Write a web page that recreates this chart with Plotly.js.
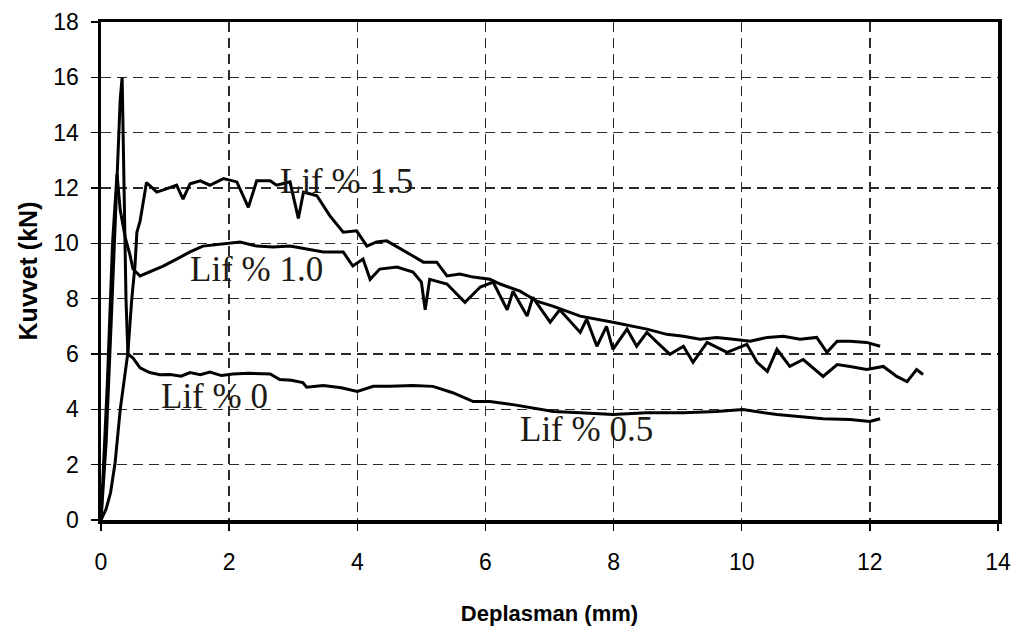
<!DOCTYPE html>
<html>
<head>
<meta charset="utf-8">
<script src="https://cdn.plot.ly/plotly-3.0.1.min.js"></script>
<style>
  html, body { margin: 0; padding: 0; background: #fff; }
  #chart { width: 1022px; height: 637px; }
</style>
</head>
<body>
<div id="chart"></div>
<script>
// ---- Data ----
// Lif % 0 : sudden peak then drop
const lif0X = [0, 0.08, 0.16, 0.24, 0.30, 0.33, 0.36, 0.39, 0.42];
const lif0Y = [0, 2.8, 7.2, 12.0, 15.2, 16.0, 12.0, 8.0, 6.0];

// Lif % 0.5 : low residual curve
const lif05X = [0.42, 0.50, 0.61, 0.76, 0.92, 1.08, 1.25, 1.39, 1.55, 1.70, 1.88, 2.06, 2.30, 2.64, 2.79, 2.97, 3.15, 3.21, 3.47, 3.75, 4.00, 4.25, 4.51, 4.87, 5.18, 5.49, 5.81, 6.07, 6.43, 6.70, 7.06, 7.48, 7.99, 8.52, 9.09, 9.61, 10.02, 10.55, 10.91, 11.27, 11.69, 12.00, 12.16];
const lif05Y = [6.0, 5.85, 5.5, 5.33, 5.25, 5.26, 5.2, 5.33, 5.25, 5.35, 5.22, 5.28, 5.3, 5.28, 5.08, 5.05, 4.97, 4.8, 4.86, 4.78, 4.65, 4.83, 4.83, 4.86, 4.83, 4.6, 4.28, 4.28, 4.17, 4.06, 3.92, 3.88, 3.81, 3.88, 3.88, 3.92, 3.99, 3.81, 3.74, 3.66, 3.63, 3.56, 3.66];

// Lif % 1.0
const lif10X = [0, 0.10, 0.18, 0.25, 0.30, 0.38, 0.45, 0.50, 0.61, 0.76, 0.97, 1.18, 1.39, 1.59, 1.91, 2.17, 2.43, 2.69, 2.95, 3.21, 3.47, 3.78, 3.93, 4.09, 4.20, 4.35, 4.62, 4.87, 5.00, 5.06, 5.13, 5.40, 5.68, 5.92, 6.12, 6.34, 6.43, 6.65, 6.74, 7.01, 7.16, 7.48, 7.58, 7.74, 7.89, 7.99, 8.21, 8.36, 8.52, 8.68, 8.88, 9.09, 9.24, 9.46, 9.77, 10.08, 10.24, 10.40, 10.55, 10.75, 10.96, 11.27, 11.49, 11.69, 11.95, 12.21, 12.42, 12.58, 12.73, 12.83];
const lif10Y = [0, 5.0, 10.0, 12.5, 11.2, 10.2, 9.6, 9.07, 8.82, 8.96, 9.18, 9.43, 9.69, 9.9, 9.98, 10.05, 9.9, 9.87, 9.9, 9.8, 9.69, 9.69, 9.18, 9.43, 8.7, 9.07, 9.14, 8.96, 8.6, 7.6, 8.7, 8.53, 7.87, 8.42, 8.6, 7.6, 8.27, 7.37, 8.05, 7.15, 7.6, 6.78, 7.26, 6.28, 7.0, 6.17, 6.9, 6.28, 6.78, 6.42, 5.99, 6.28, 5.7, 6.42, 6.06, 6.35, 5.7, 5.37, 6.17, 5.55, 5.8, 5.19, 5.62, 5.55, 5.44, 5.55, 5.19, 5.0, 5.44, 5.26];

// Lif % 1.5
const lif15X = [0, 0.08, 0.15, 0.22, 0.30, 0.42, 0.48, 0.53, 0.56, 0.61, 0.71, 0.87, 1.02, 1.18, 1.28, 1.39, 1.55, 1.70, 1.91, 2.12, 2.30, 2.43, 2.64, 2.74, 2.95, 3.08, 3.16, 3.37, 3.57, 3.78, 3.99, 4.15, 4.30, 4.46, 4.87, 5.03, 5.24, 5.40, 5.60, 5.81, 6.07, 6.23, 6.54, 6.80, 7.05, 7.48, 7.99, 8.52, 8.83, 9.09, 9.35, 9.61, 9.87, 10.13, 10.40, 10.65, 10.91, 11.17, 11.33, 11.49, 11.69, 11.95, 12.16];
const lif15Y = [0, 0.4, 1.0, 2.07, 3.99, 6.06, 7.98, 9.18, 10.4, 10.8, 12.2, 11.85, 11.97, 12.1, 11.6, 12.15, 12.26, 12.1, 12.34, 12.22, 11.3, 12.26, 12.26, 12.1, 12.22, 10.9, 11.85, 11.72, 11.0, 10.4, 10.45, 9.9, 10.05, 10.09, 9.54, 9.32, 9.32, 8.82, 8.89, 8.78, 8.7, 8.53, 8.27, 7.91, 7.73, 7.37, 7.15, 6.9, 6.71, 6.64, 6.53, 6.6, 6.53, 6.46, 6.6, 6.64, 6.53, 6.6, 6.06, 6.46, 6.46, 6.42, 6.28];

// Curve labels and tick values
const labelTexts = ['Lif % 1.5', 'Lif % 1.0', 'Lif % 0', 'Lif % 0.5'];
const labelX = [3.83, 2.42, 1.77, 7.57];
const labelY = [12.23, 9.07, 4.46, 3.27];
const xTicks = [0, 2, 4, 6, 8, 10, 12, 14];
const yTicks = [0, 2, 4, 6, 8, 10, 12, 14, 16, 18];

// ---- Plot ----
const lineStyle = { color: '#000', width: 3 };
const traces = [
  { x: lif0X, y: lif0Y, name: 'Lif % 0', mode: 'lines', line: lineStyle },
  { x: lif05X, y: lif05Y, name: 'Lif % 0.5', mode: 'lines', line: lineStyle },
  { x: lif10X, y: lif10Y, name: 'Lif % 1.0', mode: 'lines', line: lineStyle },
  { x: lif15X, y: lif15Y, name: 'Lif % 1.5', mode: 'lines', line: lineStyle }
];

const annotations = labelTexts.map((t, i) => ({
  x: labelX[i], y: labelY[i], xref: 'x', yref: 'y',
  text: t, showarrow: false,
  font: { family: '"Liberation Serif", "Times New Roman", serif', size: 35, color: '#1e1a14' }
}));

const axisCommon = {
  showgrid: true, gridcolor: '#2a2a2a', gridwidth: 1.4, griddash: '10px,6px',
  showline: true, linecolor: '#000', linewidth: 3.5, mirror: true,
  ticks: 'outside', ticklen: 7, tickwidth: 1.5, tickcolor: '#000',
  zeroline: false, fixedrange: true
};

const layout = {
  width: 1022, height: 637,
  margin: { l: 101, r: 24, t: 22, b: 117 },
  paper_bgcolor: '#fff', plot_bgcolor: '#fff',
  showlegend: false,
  xaxis: Object.assign({}, axisCommon, {
    range: [0, 14], tickvals: xTicks,
    ticklabelstandoff: 12,
    tickfont: { family: '"Liberation Sans Narrow", "Arial Narrow", "Liberation Sans", Arial, sans-serif', size: 23, color: '#000' },
    title: { text: '<b>Deplasman (mm)</b>', standoff: 32,
      font: { family: '"Liberation Sans Narrow", "Arial Narrow", "Liberation Sans", Arial, sans-serif', size: 22, color: '#000' } }
  }),
  yaxis: Object.assign({}, axisCommon, {
    range: [0, 18], tickvals: yTicks,
    ticklabelstandoff: 7,
    tickfont: { family: '"Liberation Sans", Arial, sans-serif', size: 23, color: '#000' },
    title: { text: '<b>Kuvvet (kN)</b>', standoff: 9,
      font: { family: '"Liberation Sans", Arial, sans-serif', size: 25, color: '#000' } }
  }),
  annotations: annotations
};

Plotly.newPlot('chart', traces, layout, { displayModeBar: false, staticPlot: true });
</script>
</body>
</html>
